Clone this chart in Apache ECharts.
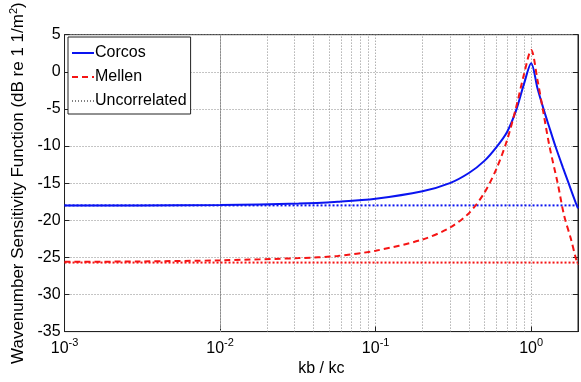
<!DOCTYPE html>
<html>
<head>
<meta charset="utf-8">
<script src="https://cdn.jsdelivr.net/npm/echarts@6/dist/echarts.min.js"></script>
<style>
  html, body { margin: 0; padding: 0; background: #fff; }
  #main { width: 581px; height: 382px; }
</style>
</head>
<body>
<div id="main"></div>
<script>
// kb / kc  -> Corcos
var corcosK = [0.001, 0.003, 0.01, 0.032, 0.057, 0.1, 0.2, 0.3, 0.4, 0.5, 0.6, 0.7, 0.8, 0.9,
    1.0, 1.1, 1.2, 1.3, 1.43, 1.6, 1.74, 1.93, 2.0];
var corcos = [-18.0, -18.0, -17.95, -17.75, -17.5, -17.1, -16.1, -15.0, -13.6, -12.0, -10.1, -8.1, -5.2, -1.6,
    1.15, -2.3, -5.0, -7.3, -10.0, -12.9, -15.0, -17.6, -18.4];
// kb / kc  -> Mellen
var mellenK = [0.001, 0.003, 0.01, 0.032, 0.057, 0.1, 0.2, 0.3, 0.4, 0.5, 0.6, 0.7, 0.8, 0.9,
    1.0, 1.1, 1.187, 1.31, 1.48, 1.63, 1.8, 1.93, 2.0];
var mellen = [-25.6, -25.55, -25.4, -25.1, -24.8, -24.1, -22.6, -21.0, -19.0, -16.3, -13.0, -9.2, -4.8, -0.3,
    2.95, -1.2, -5.0, -10.0, -15.0, -19.4, -22.5, -25.0, -26.0];
// uncorrelated levels
var uncorrK = [0.001, 2.0];
var uncorrCorcos = [-18.0, -18.0];
var uncorrMellen = [-25.7, -25.7];

// minor grid positions 2..9 x 10^k
var minorLines = [];
for (var e = -3; e <= 0; e++) {
    for (var m = 2; m <= 9; m++) {
        var v = m * Math.pow(10, e);
        if (v < 2) minorLines.push({xAxis: v});
    }
}

function pairs(xs, ys) {
    var out = [];
    for (var i = 0; i < xs.length; i++) out.push([xs[i], ys[i]]);
    return out;
}

var font = 'Liberation Sans, Arial, sans-serif';
var gridLine = {show: true, lineStyle: {color: '#8a8a8a', type: [1, 2], width: 1}};

var myChart = echarts.init(document.getElementById('main'));
var option = {
    animation: false,
    backgroundColor: '#fff',
    textStyle: {fontFamily: font},
    grid: {left: 64, top: 33, width: 518, height: 300, show: true, borderColor: '#222', borderWidth: 1},
    legend: {
        orient: 'vertical',
        left: 68, top: 37,
        backgroundColor: '#fff',
        borderColor: '#222', borderWidth: 1,
        padding: [8, 4, 5, 3],
        itemGap: 8,
        itemWidth: 22, itemHeight: 14,
        itemStyle: {opacity: 0},
        textStyle: {fontFamily: font, fontSize: 16, color: '#000', padding: [0, 0, 0, -4]},
        data: [
            {name: 'Corcos'},
            {name: 'Mellen'},
            {name: 'Uncorrelated', lineStyle: {color: '#000', width: 1, type: [1, 2]}}
        ]
    },
    xAxis: {
        type: 'log',
        logBase: 10,
        min: 0.001, max: 2,
        name: 'kb / kc',
        nameLocation: 'middle',
        nameGap: 24,
        nameTextStyle: {fontFamily: font, fontSize: 16, color: '#000'},
        axisLine: {onZero: false, lineStyle: {color: '#222'}},
        axisTick: {inside: true, length: 5, lineStyle: {color: '#222'}},
        splitLine: gridLine,
        axisLabel: {
            margin: 6,
            color: '#000',
            formatter: function (val) {
                var p = Math.log10(val);
                if (Math.abs(p - Math.round(p)) > 1e-6) return '';
                return '{b|10}{s|' + Math.round(p) + '}';
            },
            rich: {
                b: {fontFamily: font, fontSize: 16, color: '#000'},
                s: {fontFamily: font, fontSize: 11, color: '#000', padding: [0, 0, 10, 0]}
            }
        }
    },
    yAxis: [{
        type: 'value',
        min: -35, max: 5, interval: 5,
        name: '{t|Wavenumber Sensitivity Function (dB re 1 1/m}{s|2}{t|)}',
        nameLocation: 'middle',
        nameGap: 33,
        nameTextStyle: {
            rich: {
                t: {fontFamily: font, fontSize: 17, color: '#000'},
                s: {fontFamily: font, fontSize: 11, color: '#000', padding: [0, 0, 9, 0]}
            }
        },
        axisLine: {show: true, onZero: false, lineStyle: {color: '#222'}},
        axisTick: {show: true, inside: true, length: 5, lineStyle: {color: '#222'}},
        splitLine: gridLine,
        axisLabel: {color: '#000', fontFamily: font, fontSize: 16, margin: 4}
    }, {
        type: 'value',
        position: 'right',
        min: -35, max: 5, interval: 5,
        axisLine: {show: true, onZero: false, lineStyle: {color: '#222'}},
        axisTick: {show: true, inside: true, length: 5, lineStyle: {color: '#222'}},
        axisLabel: {show: false},
        splitLine: {show: false}
    }],
    series: [{
        name: 'Corcos',
        type: 'line',
        data: pairs(corcosK, corcos),
        showSymbol: false, symbol: 'none',
        smooth: 0.3,
        lineStyle: {color: '#0a14f0', width: 2},
        itemStyle: {color: '#0a14f0'},
        z: 4,
        markLine: {
            silent: true, symbol: 'none', label: {show: false},
            lineStyle: {color: '#8a8a8a', type: [1, 2], width: 1},
            data: minorLines,
            z: 1
        }
    }, {
        name: 'Mellen',
        type: 'line',
        data: pairs(mellenK, mellen),
        showSymbol: false, symbol: 'none',
        smooth: 0.3,
        lineStyle: {color: '#f51414', width: 2, type: [6, 4]},
        itemStyle: {color: '#f51414'},
        z: 5
    }, {
        name: 'Uncorrelated',
        type: 'line',
        data: pairs(uncorrK, uncorrCorcos),
        showSymbol: false, symbol: 'none',
        lineStyle: {color: '#0a14f0', width: 2, type: [2, 2]},
        itemStyle: {color: '#000'},
        z: 3
    }, {
        name: 'Uncorrelated Mellen',
        type: 'line',
        data: pairs(uncorrK, uncorrMellen),
        showSymbol: false, symbol: 'none',
        lineStyle: {color: '#f51414', width: 2, type: [2, 2]},
        z: 3
    }]
};
myChart.setOption(option);
</script>
</body>
</html>
